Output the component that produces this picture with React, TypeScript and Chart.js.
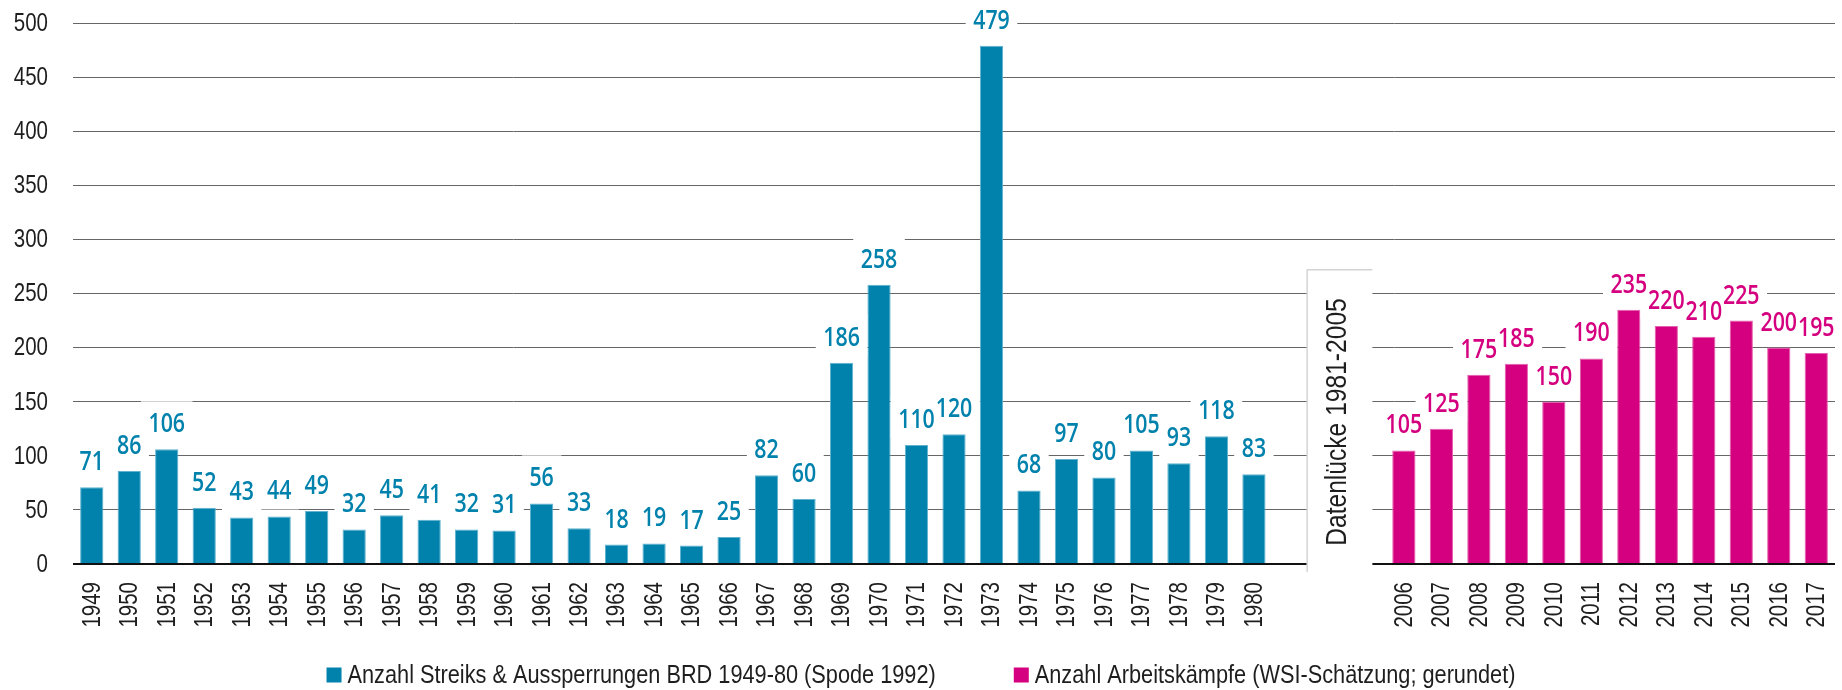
import React, { useEffect, useRef } from 'react';
import { Chart, registerables } from 'chart.js';

Chart.register(...registerables);

const yearsWest = ['1949', '1950', '1951', '1952', '1953', '1954', '1955', '1956', '1957', '1958', '1959', '1960', '1961', '1962', '1963', '1964', '1965', '1966', '1967', '1968', '1969', '1970', '1971', '1972', '1973', '1974', '1975', '1976', '1977', '1978', '1979', '1980'];
const strikesWest = [71, 86, 106, 52, 43, 44, 49, 32, 45, 41, 32, 31, 56, 33, 18, 19, 17, 25, 82, 60, 186, 258, 110, 120, 479, 68, 97, 80, 105, 93, 118, 83];
const gapLabels = ['', '', ''];
const yearsNow = ['2006', '2007', '2008', '2009', '2010', '2011', '2012', '2013', '2014', '2015', '2016', '2017'];
const disputesNow = [105, 125, 175, 185, 150, 190, 235, 220, 210, 225, 200, 195];

const seriesWestLabel = 'Anzahl Streiks & Aussperrungen BRD 1949-80 (Spode 1992)';
const seriesNowLabel = 'Anzahl Arbeitskämpfe (WSI-Schätzung; gerundet)';
const gapText = 'Datenlücke 1981-2005';
const yMax = 500;
const yStep = 50;

const BLUE = '#0082AD';
const PINK = '#D5007F';
const TEXT = '#1e1e1e';
const NARROW = "'Liberation Sans', Arial, sans-serif";
const LABELFONT = "'Open Sans', 'Liberation Sans', sans-serif";
const SQUEEZE = 0.82;

function textW(ctx: CanvasRenderingContext2D, t: string, sx: number) {
  return ctx.measureText(t).width * sx;
}

function squeezed(ctx: CanvasRenderingContext2D, t: string, x: number, y: number, sx: number, rot = 0) {
  ctx.save();
  ctx.translate(x, y);
  if (rot) ctx.rotate(rot);
  ctx.scale(sx, 1);
  ctx.fillText(t, 0, 0);
  ctx.restore();
}

export default function App() {
  const ref = useRef<HTMLCanvasElement | null>(null);

  useEffect(() => {
    document.body.style.margin = '0';
    const labels = [...yearsWest, ...gapLabels, ...yearsNow];
    const westData = [...strikesWest, ...gapLabels.map(() => null), ...yearsNow.map(() => null)];
    const nowData = [...yearsWest.map(() => null), ...gapLabels.map(() => null), ...disputesNow];

    const axisText = {
      id: 'axisText',
      afterDraw(chart: any) {
        const ctx = chart.ctx;
        const xs = chart.scales.x;
        const ys = chart.scales.y;
        ctx.save();
        ctx.fillStyle = TEXT;
        ctx.font = `25px ${NARROW}`;
        ctx.textBaseline = 'middle';
        ctx.textAlign = 'right';
        ys.ticks.forEach((t: any, i: number) => {
          const y = ys.getPixelForTick(i);
          squeezed(ctx, String(t.value), ys.right - 25, y + 1, SQUEEZE);
        });
        xs.ticks.forEach((t: any, i: number) => {
          const lab = chart.data.labels[t.value];
          if (!lab) return;
          const x = xs.getPixelForTick(i);
          squeezed(ctx, lab, x + 1, xs.top + 18, SQUEEZE, -Math.PI / 2);
        });
        ctx.restore();
      },
    };

    const valueLabels = {
      id: 'valueLabels',
      afterDatasetsDraw(chart: any) {
        const ctx = chart.ctx;
        const sx = 0.79;
        ctx.save();
        ctx.font = `600 27px ${LABELFONT}`;
        ctx.textAlign = 'center';
        ctx.textBaseline = 'alphabetic';
        chart.data.datasets.forEach((ds: any, di: number) => {
          const meta = chart.getDatasetMeta(di);
          meta.data.forEach((bar: any, i: number) => {
            const v = ds.data[i];
            if (v === null || v === undefined) return;
            const w = textW(ctx, String(v), sx);
            const base = bar.y - 17;
            ctx.fillStyle = '#ffffff';
            ctx.fillRect(bar.x - w / 2 - 7.5, base - 31, w + 15, 41);
          });
        });
        chart.data.datasets.forEach((ds: any, di: number) => {
          const meta = chart.getDatasetMeta(di);
          meta.data.forEach((bar: any, i: number) => {
            const v = ds.data[i];
            if (v === null || v === undefined) return;
            ctx.fillStyle = ds.backgroundColor;
            squeezed(ctx, String(v), bar.x, bar.y - 17, sx);
          });
        });
        ctx.restore();
      },
    };

    const gapBox = {
      id: 'gapBox',
      afterDraw(chart: any) {
        const ctx = chart.ctx;
        const xs = chart.scales.x;
        const ys = chart.scales.y;
        const slot = xs.getPixelForValue(1) - xs.getPixelForValue(0);
        const left = xs.getPixelForValue(yearsWest.length) + 0.42 * slot;
        const right = left + 1.74 * slot;
        const top = ys.getPixelForValue(272);
        const bottom = chart.chartArea.bottom + 8;
        ctx.save();
        ctx.fillStyle = '#ffffff';
        ctx.fillRect(left, top, right - left, bottom - top);
        ctx.strokeStyle = '#d4d4d4';
        ctx.lineWidth = 1.5;
        ctx.beginPath();
        ctx.moveTo(left, bottom);
        ctx.lineTo(left, top);
        ctx.lineTo(right, top);
        ctx.stroke();
        ctx.font = `30px ${NARROW}`;
        ctx.fillStyle = TEXT;
        ctx.textAlign = 'center';
        ctx.textBaseline = 'middle';
        squeezed(ctx, gapText, (left + right) / 2 - 2, 422, SQUEEZE, -Math.PI / 2);
        ctx.restore();
      },
    };

    const customLegend = {
      id: 'customLegend',
      afterDraw(chart: any) {
        const ctx = chart.ctx;
        ctx.save();
        ctx.font = `26.5px ${NARROW}`;
        ctx.textBaseline = 'middle';
        ctx.textAlign = 'left';
        const items = chart.data.datasets.map((d: any) => ({ text: d.label, color: d.backgroundColor }));
        const box = 15;
        const gap = 6;
        const between = 78;
        const widths = items.map((it: any) => box + gap + textW(ctx, it.text, SQUEEZE));
        const total = widths.reduce((a: number, b: number) => a + b, 0) + between * (items.length - 1);
        let x = (chart.width - total) / 2;
        const cy = 675;
        items.forEach((it: any, i: number) => {
          ctx.fillStyle = it.color;
          ctx.fillRect(x, cy - box / 2, box, box);
          ctx.fillStyle = TEXT;
          squeezed(ctx, it.text, x + box + gap, cy + 1, SQUEEZE);
          x += widths[i] + between;
        });
        ctx.restore();
      },
    };

    const chart = new Chart(ref.current as HTMLCanvasElement, {
      type: 'bar',
      data: {
        labels,
        datasets: [
          {
            label: seriesWestLabel,
            data: westData,
            backgroundColor: BLUE,
            borderColor: '#5fb3cf',
            borderWidth: 1,
            grouped: false,
            barPercentage: 0.62,
            categoryPercentage: 1,
          },
          {
            label: seriesNowLabel,
            data: nowData,
            backgroundColor: PINK,
            borderColor: '#e45fae',
            borderWidth: 1,
            grouped: false,
            barPercentage: 0.62,
            categoryPercentage: 1,
          },
        ],
      },
      options: {
        animation: false,
        responsive: true,
        maintainAspectRatio: false,
        layout: { padding: { top: 23, right: 7, bottom: 50, left: 0 } },
        plugins: {
          legend: { display: false },
          tooltip: { enabled: false },
        },
        scales: {
          x: {
            grid: { display: false, drawTicks: false },
            border: { display: false },
            ticks: { display: false, autoSkip: false },
            afterFit: (s: any) => {
              s.height = 76;
            },
          },
          y: {
            min: 0,
            max: yMax,
            border: { display: false },
            grid: {
              drawTicks: false,
              color: (c: any) => (c.tick && c.tick.value === 0 ? '#111111' : '#666666'),
              lineWidth: (c: any) => (c.tick && c.tick.value === 0 ? 2 : 1),
            },
            ticks: { display: false, stepSize: yStep },
            afterFit: (s: any) => {
              s.width = 73;
            },
          },
        },
      },
      plugins: [valueLabels, gapBox, axisText, customLegend],
    });
    return () => chart.destroy();
  }, []);

  return (
    <div style={{ width: 1842, height: 690, position: 'relative' }}>
      <canvas ref={ref} />
    </div>
  );
}
